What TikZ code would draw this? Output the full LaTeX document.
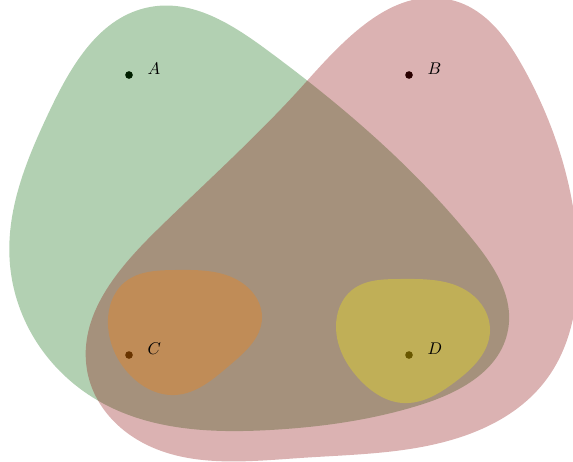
\documentclass[tikz,border=0pt]{standalone}
\usetikzlibrary{positioning,hobby}
\definecolor{setgreen}{RGB}{0,100,0}
\definecolor{setred}{RGB}{135,0,0}
\tikzset{
  pt/.style={circle,fill=black,inner sep=0pt,minimum size=4.5pt},
  lbl/.style={right=5pt of #1,yshift=3.5pt},
  blob/.style={fill=#1,fill opacity=0.3,use Hobby shortcut,closed=true},
}
\begin{document}
\begin{tikzpicture}[x=0.59pt,y=-0.59pt]
        \clip (0,0) rectangle (573,461);
        \node[pt] (a) at (129,75) {};
        \node[pt] (b) at (409,75) {};
        \node[pt] (c) at (129,355) {};
        \node[pt] (d) at (409,355) {};

        \fill[blob=setgreen] (150,7) .. (267,50) .. (473,240) .. (508,330) .. (420,405) .. (270,430) .. (97,400) .. (10,265) .. (50,110);
        \fill[blob=setred] (455,1) .. (523,67) .. (565,170) .. (578,260) .. (546,380) .. (440,443) .. (300,458) .. (133,437) .. (87,370) .. (157,230) .. (306,82);
        \fill[blob=orange] (175,270) .. (245,285) .. (262,318) .. (230,365) .. (175,395) .. (130,375) .. (108,325) .. (125,282);
        \fill[blob=yellow] (400,279) .. (470,293) .. (490,330) .. (455,382) .. (403,403) .. (360,380) .. (336,327) .. (352,290);

        \node[lbl=a] (la) {$A$};
        \node[lbl=b] (lb) {$B$};
        \node[lbl=c] (lc) {$C$};
        \node[lbl=d] (ld) {$D$};
    \end{tikzpicture}
\end{document}
